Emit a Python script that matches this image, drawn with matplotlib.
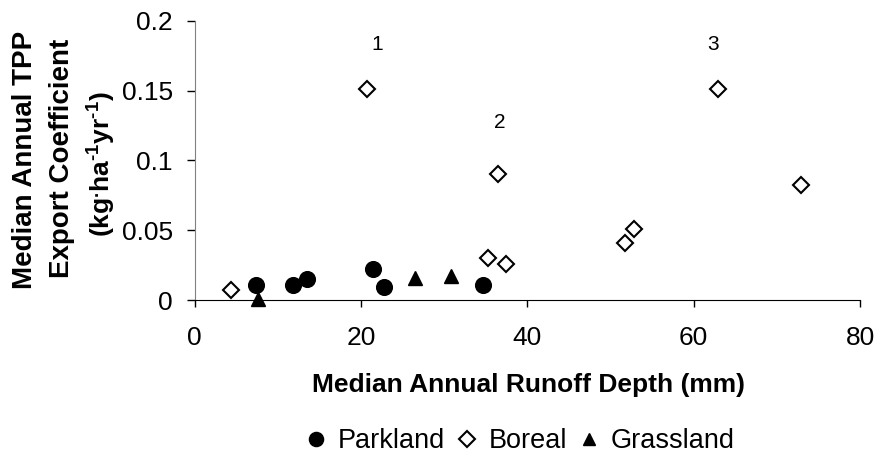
import matplotlib.pyplot as plt

plt.rcParams['font.family'] = ['Liberation Sans', 'DejaVu Sans']
plt.rcParams['mathtext.fontset'] = 'custom'
plt.rcParams['mathtext.rm'] = 'Liberation Sans:bold'
plt.rcParams['mathtext.bf'] = 'Liberation Sans:bold'
plt.rcParams['mathtext.default'] = 'bf'

# Parkland
park_x = [7.4, 11.8, 13.5, 21.5, 22.8, 34.7]
park_y = [0.011, 0.011, 0.015, 0.022, 0.009, 0.011]

# Boreal
bor_x = [4.4, 20.7, 35.3, 37.4, 36.5, 51.7, 52.8, 62.9, 72.9]
bor_y = [0.007, 0.151, 0.030, 0.026, 0.090, 0.041, 0.051, 0.151, 0.082]

# Grassland
gra_x = [7.6, 26.5, 30.8]
gra_y = [0.001, 0.016, 0.017]

# numbered annotations
ann_text = ['1', '2', '3']
ann_x = [21.9, 36.7, 62.3]
ann_y = [0.183, 0.127, 0.183]

fig = plt.figure(figsize=(8.75, 4.57), dpi=100)
ax = fig.add_axes([0.2223, 0.3435, 0.983 - 0.2223, 0.9547 - 0.3435])

ax.plot(park_x, park_y, 'o', color='black', markersize=11.3, label='Parkland', clip_on=False)
ax.plot(bor_x, bor_y, 'D', markerfacecolor='white', markeredgecolor='black',
        markeredgewidth=1.5, markersize=8.5, label='Boreal', clip_on=False)
ax.plot(gra_x, gra_y, '^', color='black', markersize=10, label='Grassland', clip_on=False)

for t, x, y in zip(ann_text, ann_x, ann_y):
    ax.text(x, y, t, fontsize=15, ha='center', va='center')

ax.set_xlim(0, 80)
ax.set_ylim(0, 0.2)
ax.set_xticks([0, 20, 40, 60, 80])
ax.set_yticks([0, 0.05, 0.1, 0.15, 0.2])
ax.set_yticklabels(['0', '0.05', '0.1', '0.15', '0.2'])
ax.tick_params(axis='x', direction='out', length=5, width=1, labelsize=19, pad=14)
ax.tick_params(axis='y', direction='out', length=5.5, width=1, labelsize=19, pad=10)

for s in ['top', 'right']:
    ax.spines[s].set_visible(False)
ax.spines['left'].set_color('#808080')

fig.text(0.604, 0.1575, 'Median Annual Runoff Depth (mm)', fontsize=19,
         fontweight='bold', ha='center', va='center')

fig.text(0.0286, 0.65, 'Median Annual TPP', rotation=90, fontsize=20,
         fontweight='bold', ha='center', va='center')
fig.text(0.0709, 0.654, 'Export Coefficient', rotation=90, fontsize=20,
         fontweight='bold', ha='center', va='center')
fig.text(0.1166, 0.641, '(kg$^{\\text{.}}$ha$^{\\text{-1}}$yr$^{\\text{-1}}$)', rotation=90,
         fontsize=19, fontweight='bold', ha='center', va='center')

fig.legend(loc='center', bbox_to_anchor=(0.5956, 0.035), ncol=3, frameon=False,
           fontsize=19.5, handlelength=0.6, handletextpad=0.5, columnspacing=0.5,
           markerscale=0.9, borderpad=0)

fig.savefig('out.png', dpi=100)
